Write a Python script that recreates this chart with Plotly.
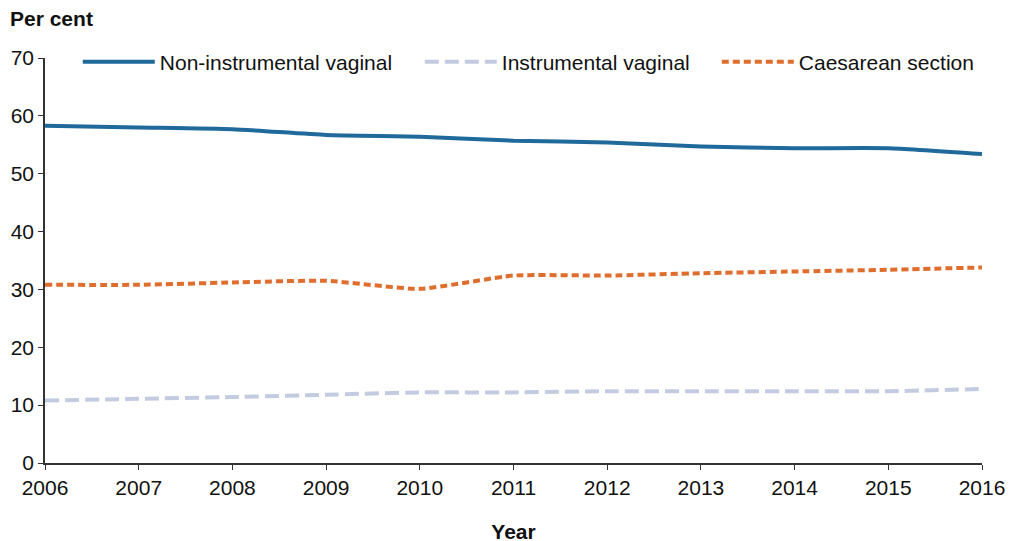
import plotly.graph_objects as go

# ================== DATA ==================
years = [2006, 2007, 2008, 2009, 2010, 2011, 2012, 2013, 2014, 2015, 2016]
non_instrumental = [58.3, 58.0, 57.7, 56.7, 56.4, 55.7, 55.4, 54.7, 54.4, 54.4, 53.4]
instrumental = [10.8, 11.1, 11.4, 11.8, 12.2, 12.2, 12.4, 12.4, 12.4, 12.4, 12.8]
caesarean = [30.8, 30.8, 31.2, 31.5, 30.1, 32.4, 32.4, 32.8, 33.1, 33.4, 33.8]

font_family = "Liberation Sans, Arial, sans-serif"

fig = go.Figure()

fig.add_trace(go.Scatter(
    x=years, y=non_instrumental, mode="lines",
    name="Non-instrumental vaginal", legendwidth=255,
    line=dict(color="#1f6a9b", width=4, shape="spline", smoothing=0.5),
))
fig.add_trace(go.Scatter(
    x=years, y=instrumental, mode="lines",
    name="Instrumental vaginal", legendwidth=210,
    line=dict(color="#c3cbe0", width=4, dash="14px,6px", shape="spline", smoothing=0.5),
))
fig.add_trace(go.Scatter(
    x=years, y=caesarean, mode="lines",
    name="Caesarean section", legendwidth=178,
    line=dict(color="#df6d2d", width=4, dash="7px,4px", shape="spline", smoothing=0.5),
))

# ================== LAYOUT ==================
# page body has an 8px margin, so the plot margins are offset to compensate
fig.update_layout(
    width=1015, height=541,
    margin=dict(l=37, r=41, t=50, b=86, autoexpand=False),
    paper_bgcolor="white", plot_bgcolor="white",
    font=dict(family=font_family, size=21, color="#111"),
    showlegend=True,
    legend=dict(
        orientation="h", x=0.035, y=0.99, xanchor="left", yanchor="middle",
        font=dict(size=21), itemwidth=72, bgcolor="rgba(0,0,0,0)",
    ),
    xaxis=dict(
        range=[2006, 2016], tickmode="array", tickvals=years, automargin=False,
        showline=True, linecolor="#333", linewidth=1.5,
        ticks="outside", ticklen=5, tickcolor="#333",
        showgrid=False, zeroline=False,
        title=dict(text="<b>Year</b>", font=dict(size=21), standoff=26),
    ),
    yaxis=dict(
        range=[0, 70], dtick=10, automargin=False,
        showline=True, linecolor="#333", linewidth=1.5,
        ticks="outside", ticklen=5, tickcolor="#333",
        showgrid=False, zeroline=False,
    ),
    annotations=[dict(
        text="<b>Per cent</b>", xref="paper", yref="paper",
        x=-0.0395, y=1.0, yshift=40, xanchor="left", yanchor="middle",
        showarrow=False, font=dict(size=21),
    )],
)

fig.write_html("out.html")
